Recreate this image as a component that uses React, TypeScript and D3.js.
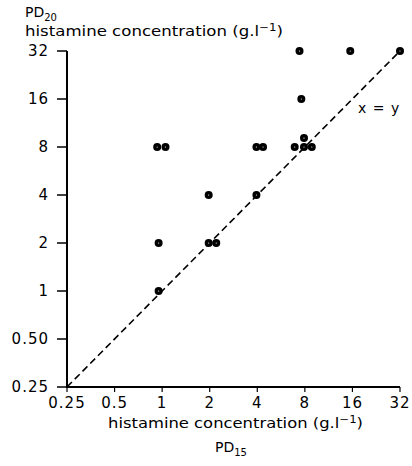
import React from "react";
import * as d3 from "d3";

const tickValues = [0.25, 0.5, 1, 2, 4, 8, 16, 32];
const xTickLabels = ["0.25", "0.5", "1", "2", "4", "8", "16", "32"];
const yTickLabels = ["0.25", "0.50", "1", "2", "4", "8", "16", "32"];

// PD15 (x) and PD20 (y) histamine concentrations
const pd15 = [0.93, 1.05, 0.95, 0.95, 1.97, 1.97, 2.2, 3.95, 3.95, 4.35, 7.4, 15.5, 32, 7.6, 6.9, 7.9, 8.85, 7.9];
const pd20 = [8, 8, 2, 1, 4, 2, 2, 4, 8, 8, 32, 32, 32, 16, 8, 8, 8, 9.1];

const identityLine = [0.25, 32];

const W = 412;
const H = 466;

export default function App() {
  const x = d3.scaleLog().base(2).domain([0.25, 32]).range([67, 400]);
  const y = d3.scaleLog().base(2).domain([0.25, 32]).range([387, 51]);
  const font = "'DejaVu Sans', sans-serif";
  const pts = pd15.map((v, i) => [v, pd20[i]]);
  const line = d3
    .line<number>()
    .x((d) => x(d))
    .y((d) => y(d));

  return (
    <svg
      width={W}
      height={H}
      style={{ position: "absolute", left: 0, top: 0, background: "#fff" }}
      fontFamily={font}
    >
      {/* top y title */}
      <text x={25} y={17} fontSize={14}>
        PD<tspan fontSize={10} dy={4}>20</tspan>
      </text>
      <text x={25} y={36} fontSize={14} textLength={258} lengthAdjust="spacingAndGlyphs">
        histamine concentration (g.l<tspan fontSize={10} dy={-5}>−1</tspan>
        <tspan dy={5}>)</tspan>
      </text>

      {/* axes */}
      <line x1={67} x2={67} y1={y(32)} y2={y(0.25)} stroke="#000" strokeWidth={2} />
      <line x1={66} x2={400} y1={y(0.25)} y2={y(0.25)} stroke="#000" strokeWidth={2} />

      {tickValues.map((t, i) => (
        <g key={"y" + i}>
          <line x1={57} x2={67} y1={y(t)} y2={y(t)} stroke="#000" strokeWidth={1.5} />
          <text
            x={49}
            y={y(t)}
            dy="0.35em"
            textAnchor="end"
            fontSize={15}
            letterSpacing={1}
          >
            {yTickLabels[i]}
          </text>
        </g>
      ))}
      {tickValues.map((t, i) => (
        <g key={"x" + i}>
          <line x1={x(t)} x2={x(t)} y1={y(0.25)} y2={y(0.25) + 5} stroke="#000" strokeWidth={1.2} />
          <text
            x={x(t)}
            y={403}
            dy="0.35em"
            textAnchor="middle"
            fontSize={15}
            letterSpacing={1}
          >
            {xTickLabels[i]}
          </text>
        </g>
      ))}

      {/* bottom x title */}
      <text x={108} y={428} fontSize={14} textLength={255} lengthAdjust="spacingAndGlyphs">
        histamine concentration (g.l<tspan fontSize={10} dy={-5}>−1</tspan>
        <tspan dy={5}>)</tspan>
      </text>
      <text x={215} y={452} fontSize={14}>
        PD<tspan fontSize={10} dy={4}>15</tspan>
      </text>

      {/* identity line */}
      <path
        d={line(identityLine) || ""}
        fill="none"
        stroke="#000"
        strokeWidth={1.6}
        strokeDasharray="7,4"
      />
      <text x={358} y={113} fontSize={14} letterSpacing={1}>
        x = y
      </text>

      {/* points */}
      {pts.map((p, i) => (
        <g key={"p" + i}>
          <circle cx={x(p[0])} cy={y(p[1])} r={4} fill="#000" />
          <circle cx={x(p[0])} cy={y(p[1])} r={0.6} fill="#fff" />
        </g>
      ))}
    </svg>
  );
}
